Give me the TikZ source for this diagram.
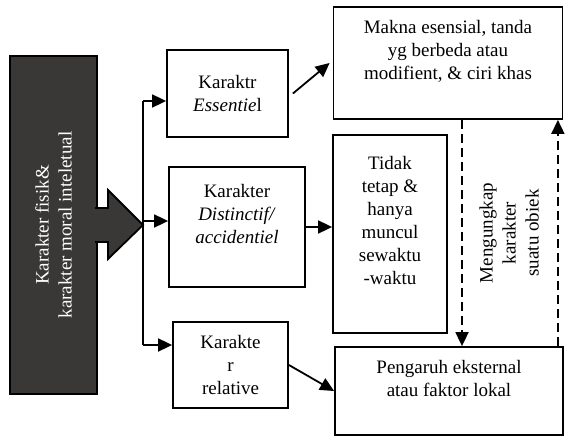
\documentclass[tikz,border=0pt]{standalone}
\usepackage{fontspec}
\setmainfont{Liberation Serif}
\usetikzlibrary{arrows.meta}
\definecolor{darkfill}{RGB}{58,56,54}

\begin{document}
\begin{tikzpicture}[x=1pt,y=-1pt]
			\tikzstyle{box}=[draw, line width=1.8pt, align=center, inner sep=0pt, font=\fontsize{19}{23}\selectfont]
			\tikzstyle{dark}=[box, fill=darkfill, text=white]
			\tikzstyle{note}=[align=center, font=\fontsize{19}{23}\selectfont]
			\tikzset{edge/.style = {line width=1.8pt, -{Triangle[length=14pt,width=13pt]}}}
			\tikzset{back/.style = {edge, dash pattern=on 9pt off 5pt}}

			\useasboundingbox (0,0) rectangle (565,436);

			\node[dark, rotate=90, minimum width=338pt, minimum height=87pt](fisik) at (53.5,225) {Karakter fisik\&\\karakter moral inteletual};
			\filldraw[fill=darkfill, line width=1.8pt] (95,208) -- (108,208) -- (108,190) -- (143,225) -- (108,259) -- (108,242) -- (95,242);

			\coordinate (top) at (143,101);
			\coordinate (mid) at (143,221);
			\coordinate (bot) at (143,345);
			\draw[line width=1.8pt](top) to (bot);

			\node[box, minimum width=121pt, minimum height=87pt](ess) at (227.5,93.5) {Karaktr\\\textit{Essentie}l};
			\node[box, minimum width=136pt, minimum height=120pt](dist) at (237,227) {Karakter\\\textit{Distinctif/}\\\textit{accidentiel}\\[4pt]};
			\node[box, minimum width=115pt, minimum height=86pt](rel) at (230.5,365) {Karakte\\r\\relative};
			\draw[edge](top) to (top -| ess.west);
			\draw[edge](mid) to (mid -| dist.west);
			\draw[edge](bot) to (bot -| rel.west);

			\node[box, minimum width=229pt, minimum height=112pt](makna) at (448,63) {Makna esensial, tanda\\yg berbeda atau\\modifient, \& ciri khas\\[4pt]};
			\node[box, minimum width=114pt, minimum height=198pt](tidak) at (390,234) {Tidak\\tetap \&\\hanya\\muncul\\sewaktu\\-waktu\\[4pt]};
			\node[box, minimum width=228pt, minimum height=88pt](peng) at (449,391) {Pengaruh eksternal\\atau faktor lokal\\[2pt]};
			\draw[edge]([xshift=4pt]ess.east) to ([xshift=-3pt]makna.west);
			\draw[edge](dist.east) to (dist.east -| tidak.west);
			\draw[edge](rel.east) to (peng.west);

			\draw[back]([xshift=14pt]makna.south) to ([xshift=14pt]makna.south |- peng.north);
			\draw[back]([xshift=-6pt]peng.north east) to ([xshift=-6pt]peng.north east |- makna.south);
			\node[note, rotate=90](ungkap) at (509,233) {Mengungkap\\karakter\\suatu obiek};

			\end{tikzpicture}
\end{document}
